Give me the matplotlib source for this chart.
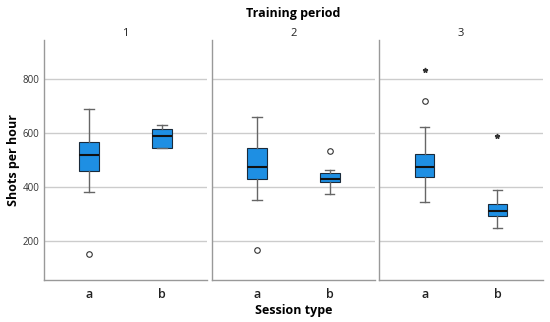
import matplotlib
matplotlib.use('Agg')
import matplotlib.pyplot as plt

plt.rcParams['font.family'] = ['Open Sans', 'DejaVu Sans']

periods = ['1', '2', '3']
sessions = ['a', 'b']

# per period, per session: whisker low, q1, median, q3, whisker high
whislo = [[382, 545], [351, 373], [345, 249]]
q1     = [[459, 545], [431, 419], [437, 295]]
med    = [[518, 587], [475, 429], [474, 311]]
q3     = [[566, 613], [545, 452], [522, 338]]
whishi = [[689, 629], [657, 463], [622, 390]]
outliers = [[[154], []], [[169], [533]], [[719], []]]
extremes = [[[], []], [[], []], [[833], [589]]]

yticks = [200, 400, 600, 800]

fig = plt.figure(figsize=(5.5, 3.22), dpi=100)
left, width, gap = 0.08, 0.2965, 0.0085
bottom, height = 0.130, 0.746
box_color = '#1E8FE3'
edge = '#1a2a3a'

axes = []
for i, p in enumerate(periods):
    ax = fig.add_axes([left + i * (width + gap), bottom, width, height])
    axes.append(ax)
    stats = []
    for j, s in enumerate(sessions):
        stats.append(dict(whislo=whislo[i][j], q1=q1[i][j], med=med[i][j],
                          q3=q3[i][j], whishi=whishi[i][j], fliers=outliers[i][j], label=s))
    ax.bxp(stats, positions=[0, 1], widths=0.27, patch_artist=True,
           boxprops=dict(facecolor=box_color, edgecolor=edge, linewidth=0.8),
           medianprops=dict(color='#111111', linewidth=1.5),
           whiskerprops=dict(color='#666666', linewidth=1.0),
           capprops=dict(color='#666666', linewidth=1.0),
           capwidths=0.13,
           flierprops=dict(marker='o', markersize=4, markerfacecolor='white',
                           markeredgecolor='#333333', markeredgewidth=0.8),
           zorder=3)
    for j in range(len(sessions)):
        if extremes[i][j]:
            ax.plot([j] * len(extremes[i][j]), extremes[i][j], linestyle='none',
                    marker='*', markersize=3.5, color='#333333', zorder=4)
    ax.set_xlim(-0.62, 1.62)
    ax.set_ylim(57, 943)
    ax.set_yticks(yticks)
    ax.yaxis.grid(True, color='#cccccc', linewidth=1.0, zorder=0)
    ax.set_axisbelow(True)
    for sp in ['top', 'right']:
        ax.spines[sp].set_visible(False)
    for sp in ['left', 'bottom']:
        ax.spines[sp].set_color('#999999')
        ax.spines[sp].set_linewidth(1.0)
    ax.tick_params(length=0)
    ax.set_xticks([0, 1])
    ax.set_xticklabels(sessions, fontsize=9, fontweight='semibold', color='#222222')
    ax.tick_params(axis='x', pad=6)
    if i == 0:
        ax.set_yticklabels([str(v) for v in yticks], fontsize=7, color='#333333')
    else:
        ax.set_yticklabels([])
    ax.set_title(p, fontsize=8, pad=3, color='#222222')

mid = 0.5 * (left + left + 3 * width + 2 * gap)
fig.text(mid, 0.958, 'Training period', ha='center', va='center',
         fontsize=9, fontweight='bold')
fig.text(mid, 0.035, 'Session type', ha='center', va='center',
         fontsize=9, fontweight='bold')
fig.text(0.024, bottom + height / 2, 'Shots per hour', ha='center', va='center',
         rotation=90, fontsize=9, fontweight='bold')

fig.savefig('out.png', dpi=100)
